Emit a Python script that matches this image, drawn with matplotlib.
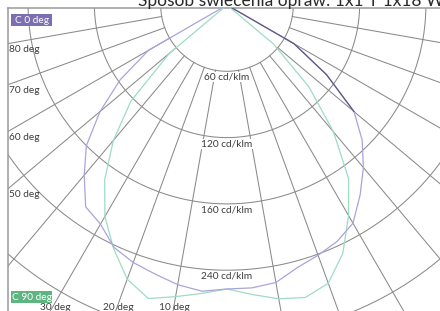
import numpy as np
import matplotlib
matplotlib.use("Agg")
import matplotlib.pyplot as plt
from matplotlib.patches import Rectangle

plt.rcParams['font.family'] = ['Lato', 'DejaVu Sans']

# ---- data (cd/klm) ----
title = "Sposób świecenia opraw: 1x1 T 1x18 W"
gamma = [0, 5, 10, 15, 20, 25, 30, 35, 40, 45, 50, 55, 60, 65, 70, 75, 80, 85, 90]
c0_left = [257, 260, 257, 252, 248, 242, 229, 223, 201, 180, 150, 118, 82, 0, 0, 0, 0, 0, 0]
c0_right = [257, 257, 255, 246, 241, 236, 228, 210, 192, 173, 150, 110, 70, 0, 0, 0, 0, 0, 0]
c90_left = [257, 262, 268, 275, 264, 243, 221, 193, 160, 123, 68, 0, 0, 0, 0, 0, 0, 0, 0]
c90_right = [257, 263, 270, 274, 268, 248, 220, 192, 150, 105, 55, 0, 0, 0, 0, 0, 0, 0, 0]
ring_values = [60, 120, 180, 240, 300, 360, 420]
ring_labels = ["60 cd/klm", "120 cd/klm", "160 cd/klm", "240 cd/klm"]
spoke_angles = list(range(10, 180, 10))
left_labels = [80, 70, 60, 50]
bottom_labels = [30, 20, 10]
legend_labels = ["C 0 deg", "C 90 deg"]

# ---- styling ----
W, H = 440, 311
k = 1.105            # px per cd/klm
cx, cy = 227, 5      # pixel position of the pole
grid_col = "#8a8a8a"
purple = "#aaa4da"
purple_dark = "#5a5a82"
green = "#9edcc2"
txt_col = "#3c3c3c"
fs = 7.3

fig = plt.figure(figsize=(W / 100, H / 100), dpi=100)
left_px, top_px = 8, 8
ax = fig.add_axes([left_px / W, 0, (W - left_px) / W, (H - top_px) / H])
x0 = (left_px - cx) / k
x1 = (W - cx) / k
y0 = -(H - cy) / k
y1 = -(top_px - cy) / k
ax.set_xlim(x0, x1)
ax.set_ylim(y0, y1)
ax.set_xticks([])
ax.set_yticks([])
for s in ['right', 'bottom']:
    ax.spines[s].set_visible(False)
for s in ['left', 'top']:
    ax.spines[s].set_color("#9a9a9a")
    ax.spines[s].set_linewidth(1.1)


def pol(I, g, side):
    g = np.radians(np.asarray(g, float))
    I = np.asarray(I, float)
    return side * I * np.sin(g), -I * np.cos(g)


# rings
th = np.linspace(0, 2 * np.pi, 721)
for r in ring_values:
    ax.plot(r * np.cos(th), r * np.sin(th), color=grid_col, lw=0.75, zorder=1)
# spokes
for a in spoke_angles:
    for side in (-1, 1):
        xs, ys = pol([ring_values[0], 600], [a, a], side)
        ax.plot(xs, ys, color=grid_col, lw=0.75, zorder=1)

# curves
g = np.array(gamma)
xl, yl = pol(c90_left, g, -1)
xr, yr = pol(c90_right, g, 1)
ax.plot(np.r_[xl[::-1], xr], np.r_[yl[::-1], yr], color=green, lw=0.9, zorder=3)
xl, yl = pol(c0_left, g, -1)
xr, yr = pol(c0_right, g, 1)
ax.plot(np.r_[xl[::-1], xr], np.r_[yl[::-1], yr], color=purple, lw=0.9, zorder=4)
m = g >= 50
ax.plot(xr[m], yr[m], color=purple_dark, lw=0.9, zorder=5)

# ring labels
for r, lab in zip(ring_values, ring_labels):
    ax.text(0, -r - 5.5, lab, ha='center', va='center', fontsize=fs, color=txt_col,
            zorder=6, bbox=dict(boxstyle='square,pad=0.05', fc='white', ec='none'))

# angle labels
for a in left_labels:
    yy = x0 / np.tan(np.radians(a))
    ax.text(x0 + 0.5, yy - 1.0, f"{a} deg", ha='left', va='top', fontsize=fs,
            color=txt_col, zorder=6)
yb = -(303 - cy) / k
for a in bottom_labels:
    xx = yb * np.tan(np.radians(a))
    ax.text(xx, yb, f"{a} deg", ha='center', va='top', fontsize=fs,
            color=txt_col, zorder=6, clip_on=False)

# legend boxes
for lab, col, ytop in zip(legend_labels, ["#7c6eb0", "#5fb582"], [14, 291]):
    fig.patches.append(Rectangle((11 / W, 1 - (ytop + 12) / H), 41 / W, 12 / H,
                                 transform=fig.transFigure, fc=col, ec='none', zorder=7))
    fig.text(31.5 / W, 1 - (ytop + 6.5) / H, lab, ha='center', va='center',
             fontsize=fs, color='white', zorder=8)

# title (partially cut at the top edge)
t = fig.text(138 / W, 1 - 6 / H, title, ha='left', va='baseline', fontsize=12,
             color="#2a2a2a")
fig.canvas.draw()
bb = t.get_window_extent()
t.set_fontsize(12 * (305 / bb.width))

fig.savefig("out.png", dpi=100)
